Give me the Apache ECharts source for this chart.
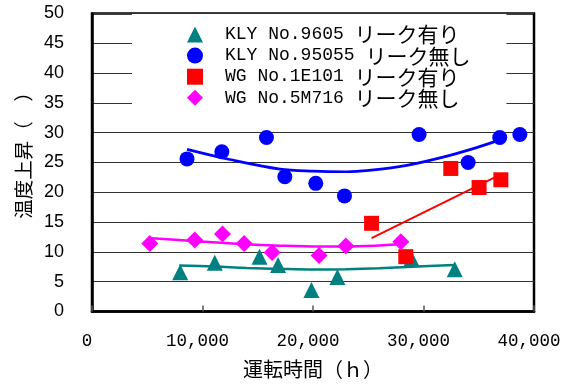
<!DOCTYPE html>
<html>
<head>
<meta charset="utf-8">
<script src="https://cdn.jsdelivr.net/npm/echarts@6/dist/echarts.min.js"></script>
<style>
  html, body { margin: 0; padding: 0; background: #fff; }
  #chart { width: 570px; height: 385px; }
</style>
</head>
<body>
<div id="chart"></div>
<script>
// Series names shown in the legend
const seriesNames = [
  'KLY No.9605 リーク有り',
  'KLY No.95055 リーク無し',
  'WG No.1E101 リーク有り',
  'WG No.5M716 リーク無し'
];

// Measured points: [operating hours, temperature rise]
const kly9605 = [
  [7980, 6.6], [11110, 8.2], [15160, 9.2], [16840, 7.8],
  [19860, 3.6], [22210, 5.8], [28910, 8.9], [32830, 7.1]
];
const kly95055 = [
  [8600, 25.6], [11750, 26.8], [15790, 29.2], [17450, 22.6], [20250, 21.5],
  [22850, 19.4], [29600, 29.7], [34040, 25.0], [36900, 29.2], [38720, 29.7]
];
const wg1E101 = [
  [25300, 14.8], [28400, 9.2], [32470, 24.0], [35030, 20.8], [37000, 22.1]
];
const wg5M716 = [
  [5230, 11.4], [9300, 12.0], [11810, 13.0], [13770, 11.4],
  [16300, 9.9], [20550, 9.4], [22970, 11.0], [27950, 11.7]
];

// Trend curves, sampled along each fitted line
const trendKly9605 = [
  [7900, 7.7], [11000, 7.55], [14000, 7.3], [17000, 7.15], [20000, 7.05],
  [23000, 7.1], [26000, 7.25], [29000, 7.5], [32800, 7.8]
];
const trendKly95055 = [
  [8600, 27.2], [12470, 25.5], [17000, 23.9], [20000, 23.55], [23000, 23.45],
  [27800, 24.3], [31770, 25.9], [34800, 27.5], [36900, 28.8]
];
const trendWg1E101 = [[25300, 12.3], [37000, 23.0]];
const trendWg5M716 = [
  [5400, 12.3], [9500, 11.8], [13800, 11.3], [17000, 11.05],
  [20500, 10.9], [24000, 10.95], [27800, 11.3]
];

// Axis settings
const xMin = 0, xMax = 40000, xStep = 10000;
const yMin = 0, yMax = 50, yStep = 5;
const xTitle = '運転時間（ｈ）';
const yTitle = '温度上昇（　）';

const colors = ['#008080', '#0000ff', '#ff0000', '#ff00ff'];

function withCommas(v) {
  return String(v).replace(/\B(?=(\d{3})+(?!\d))/g, ',');
}

const chart = echarts.init(document.getElementById('chart'), null, { renderer: 'canvas' });

const scatterCommon = { type: 'scatter', z: 4 };
const lineCommon = {
  type: 'line', smooth: 0.35, showSymbol: false, symbol: 'none',
  silent: true, z: 3
};

chart.setOption({
  animation: false,
  backgroundColor: '#fff',
  grid: {
    left: 92, right: 36, top: 13.5, bottom: 73.5,
    show: true, borderColor: '#000', borderWidth: 2.5, backgroundColor: 'transparent'
  },
  legend: {
    data: seriesNames,
    orient: 'vertical',
    left: 132, top: 14,
    padding: [10, 36, 12, 55],
    backgroundColor: '#fff',
    itemWidth: 16, itemHeight: 16, itemGap: 0.1,
    z: 10,
    formatter: function (name) {
      const i = name.lastIndexOf(' ');
      return '{a|' + name.slice(0, i + 1) + '}{j|' + name.slice(i + 1) + '}';
    },
    textStyle: {
      color: '#000',
      lineHeight: 16,
      rich: {
        a: { fontFamily: 'Liberation Mono', fontSize: 18, color: '#000', lineHeight: 16,
             height: 16, padding: [0, 0, 0, 17] },
        j: { fontFamily: 'Noto Sans CJK JP', fontSize: 21, color: '#000', lineHeight: 16,
             height: 16 }
      }
    }
  },
  xAxis: {
    type: 'value', min: xMin, max: xMax, interval: xStep,
    name: xTitle, nameLocation: 'middle', nameGap: 48,
    nameTextStyle: { fontFamily: 'Noto Sans CJK JP', fontSize: 20, color: '#000' },
    axisLine: { show: true, onZero: false, lineStyle: { color: '#000', width: 2.5 } },
    axisTick: { show: true, inside: true, length: 6, lineStyle: { color: '#555', width: 1.5 } },
    axisLabel: {
      margin: 21, color: '#000', fontFamily: 'Liberation Mono', fontSize: 17.5,
      padding: [0, 10, 0, 0],
      formatter: withCommas
    },
    splitLine: { show: false }
  },
  yAxis: {
    type: 'value', min: yMin, max: yMax, interval: yStep,
    name: yTitle, nameLocation: 'middle', nameGap: 58, nameRotate: 90,
    nameTextStyle: {
      fontFamily: 'Noto Sans CJK JP', fontSize: 19.5, color: '#000',
      padding: [0, 0, 0, 24]
    },
    axisLine: { show: true, lineStyle: { color: '#000', width: 2.5 } },
    axisTick: { show: false },
    axisLabel: { margin: 28, color: '#000', fontFamily: 'Liberation Sans', fontSize: 18 },
    splitLine: { show: true, lineStyle: { color: '#333', width: 1 } }
  },
  series: [
    Object.assign({}, scatterCommon, {
      name: seriesNames[0], data: kly9605, symbol: 'triangle', symbolSize: 16,
      itemStyle: { color: colors[0], opacity: 1 }
    }),
    Object.assign({}, scatterCommon, {
      name: seriesNames[1], data: kly95055, symbol: 'circle', symbolSize: 15,
      itemStyle: { color: colors[1], opacity: 1 }
    }),
    Object.assign({}, scatterCommon, {
      name: seriesNames[2], data: wg1E101, symbol: 'rect', symbolSize: 15,
      itemStyle: { color: colors[2], opacity: 1 }
    }),
    Object.assign({}, scatterCommon, {
      name: seriesNames[3], data: wg5M716, symbol: 'diamond', symbolSize: 17,
      itemStyle: { color: colors[3], opacity: 1 }
    }),
    Object.assign({}, lineCommon, {
      name: 'trend-kly9605', data: trendKly9605,
      lineStyle: { color: colors[0], width: 2.5 }, itemStyle: { color: colors[0] }
    }),
    Object.assign({}, lineCommon, {
      name: 'trend-kly95055', data: trendKly95055,
      lineStyle: { color: colors[1], width: 2.7 }, itemStyle: { color: colors[1] }
    }),
    Object.assign({}, lineCommon, {
      name: 'trend-wg1E101', data: trendWg1E101, smooth: false,
      lineStyle: { color: colors[2], width: 2 }, itemStyle: { color: colors[2] }
    }),
    Object.assign({}, lineCommon, {
      name: 'trend-wg5M716', data: trendWg5M716,
      lineStyle: { color: colors[3], width: 2.5 }, itemStyle: { color: colors[3] }
    })
  ]
});
</script>
</body>
</html>
